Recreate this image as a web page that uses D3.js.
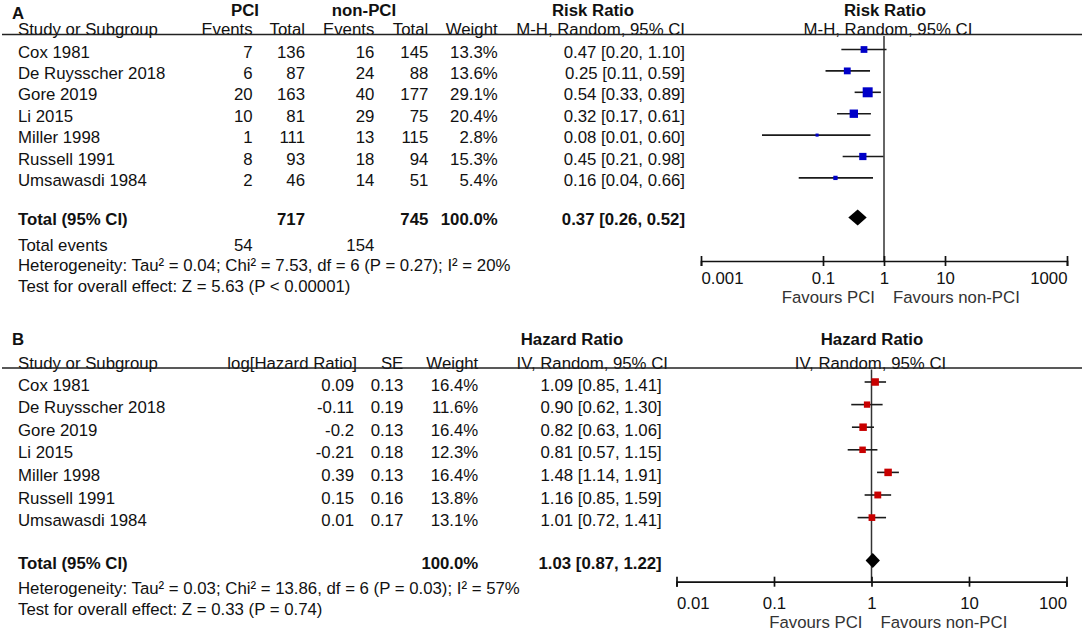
<!DOCTYPE html>
<meta charset="utf-8">
<style>
body { margin: 0; background: #fff; }
svg text {
  font-family: "Liberation Sans", Arial, sans-serif;
  font-size: 16.8px;
  fill: #111;
}
.bold { font-weight: bold; }
.axis line,
.axis path {
  fill: none;
  stroke: #111;
  stroke-width: 1.7px;
}
.ci { stroke: #1a1a1a; stroke-width: 1.6px; }
.zero { stroke: #333; stroke-width: 1.5px; }
.rule { stroke: #222; stroke-width: 1.6px; }
text.favours { fill: #333; }
</style>
<body>
<div id="forest"></div>

<script src="https://cdn.jsdelivr.net/npm/d3@7/dist/d3.min.js"></script>

<script>
// ---- shared study names
var studies = ["Cox 1981", "De Ruysscher 2018", "Gore 2019", "Li 2015", "Miller 1998", "Russell 1991", "Umsawasdi 1984"];

// ---- panel A : risk ratio (PCI vs non-PCI)
var pciEvents = [7, 6, 20, 10, 1, 8, 2];
var pciTotal = [136, 87, 163, 81, 111, 93, 46];
var nonEvents = [16, 24, 40, 29, 13, 18, 14];
var nonTotal = [145, 88, 177, 75, 115, 94, 51];
var rrWeight = [13.3, 13.6, 29.1, 20.4, 2.8, 15.3, 5.4];
var rrEst = [0.47, 0.25, 0.54, 0.32, 0.08, 0.45, 0.16];
var rrLow = [0.20, 0.11, 0.33, 0.17, 0.01, 0.21, 0.04];
var rrHigh = [1.10, 0.59, 0.89, 0.61, 0.60, 0.98, 0.66];
var rrPooled = [0.37, 0.26, 0.52];
var rrTicks = [0.001, 0.1, 1, 10, 1000];

// ---- panel B : hazard ratio
var logHR = [0.09, -0.11, -0.2, -0.21, 0.39, 0.15, 0.01];
var hrSE = [0.13, 0.19, 0.13, 0.18, 0.13, 0.16, 0.17];
var hrWeight = [16.4, 11.6, 16.4, 12.3, 16.4, 13.8, 13.1];
var hrEst = [1.09, 0.90, 0.82, 0.81, 1.48, 1.16, 1.01];
var hrLow = [0.85, 0.62, 0.63, 0.57, 1.14, 0.85, 0.72];
var hrHigh = [1.41, 1.30, 1.06, 1.15, 1.91, 1.59, 1.41];
var hrPooled = [1.03, 0.87, 1.22];
var hrTicks = [0.01, 0.1, 1, 10, 100];

var W = 1084, H = 630;
var svg = d3.select("#forest").append("svg")
  .attr("width", W)
  .attr("height", H);

function pct(v) { return v.toFixed(1) + "%"; }
function ratio(e, l, h) { return e.toFixed(2) + " [" + l.toFixed(2) + ", " + h.toFixed(2) + "]"; }

function put(g, x, y, txt, anchor, cls) {
  return g.append("text")
    .attr("x", x).attr("y", y)
    .attr("text-anchor", anchor || "start")
    .attr("class", cls || null)
    .text(txt);
}

function drawPanel(cfg) {
  var g = svg.append("g");
  var rowY = d3.scaleLinear().domain([0, 1]).range([cfg.firstRow, cfg.firstRow + cfg.step]);
  var x = d3.scaleLog().domain(cfg.domain).range(cfg.range);
  var side = d3.scaleSqrt().domain([0, 100]).range([0, 18.5]);

  // header, line 1
  put(g, 12, cfg.letterY, cfg.letter, "start", "bold");
  cfg.groups.forEach(function(gr) { put(g, gr.x, cfg.head1, gr.text, "middle", "bold"); });
  put(g, (x(1) + cfg.plotHeadDx), cfg.head1, cfg.plotHead1, "middle", "bold");

  // header, line 2
  put(g, 18, cfg.head2, "Study or Subgroup");
  cfg.cols.forEach(function(c) { put(g, c.hx || c.x, cfg.head2, c.head, "end"); });
  put(g, (x(1) + cfg.plotHeadDx2), cfg.head2, cfg.plotHead2, "middle");
  g.append("line").attr("class", "rule")
    .attr("x1", 2).attr("x2", W - 2)
    .attr("y1", cfg.head2 - 0.5).attr("y2", cfg.head2 - 0.5);

  // study rows
  studies.forEach(function(s, i) {
    var y = rowY(i) + 6;
    put(g, 18, y, s);
    cfg.cols.forEach(function(c) { put(g, c.x, y, c.fmt(i), "end"); });
  });

  // total row
  var ty = rowY(cfg.totalRow) + 6;
  put(g, 18, ty, "Total (95% CI)", "start", "bold");
  cfg.cols.forEach(function(c) {
    if (c.total != null) put(g, c.x, ty, c.total, "end", "bold");
  });

  // footnotes
  cfg.notes.forEach(function(n) {
    put(g, 18, n.y, n.text);
    (n.cells || []).forEach(function(c) { put(g, c.x, n.y, c.v, "end"); });
  });

  // null line
  g.append("line").attr("class", "zero")
    .attr("x1", x(1)).attr("x2", x(1))
    .attr("y1", cfg.head2 + 1).attr("y2", cfg.axisY);

  // whiskers + squares
  var marks = g.selectAll(".study").data(studies).enter().append("g").attr("class", "study");
  marks.append("line").attr("class", "ci")
    .attr("x1", function(d, i) { return x(cfg.low[i]); })
    .attr("x2", function(d, i) { return x(cfg.high[i]); })
    .attr("y1", function(d, i) { return rowY(i) + cfg.markDy; })
    .attr("y2", function(d, i) { return rowY(i) + cfg.markDy; });
  marks.append("rect")
    .attr("fill", cfg.color)
    .attr("x", function(d, i) { return x(cfg.est[i]) - side(cfg.weight[i]) / 2; })
    .attr("y", function(d, i) { return rowY(i) + cfg.markDy - side(cfg.weight[i]) / 2; })
    .attr("width", function(d, i) { return side(cfg.weight[i]); })
    .attr("height", function(d, i) { return side(cfg.weight[i]); });

  // pooled diamond
  var dy = rowY(cfg.totalRow) + cfg.markDy, p = cfg.pooled;
  g.append("path")
    .attr("fill", "#000")
    .attr("d", "M" + x(p[1]) + "," + dy + "L" + x(p[0]) + "," + (dy - cfg.diamondH) +
      "L" + x(p[2]) + "," + dy + "L" + x(p[0]) + "," + (dy + cfg.diamondH) + "Z");

  // log axis
  var axis = g.append("g").attr("class", "axis")
    .attr("transform", "translate(0," + cfg.axisY + ")")
    .call(d3.axisBottom(x).tickValues(cfg.ticks).tickSizeOuter(0).tickSize(5)
      .tickFormat(function(d) { return String(d); }));
  axis.selectAll(".tick line").attr("y1", -5).attr("y2", 5);
  axis.selectAll(".tick text")
    .attr("y", null).attr("dy", null)
    .attr("transform", "translate(0," + cfg.tickLabelDy + ")")
    .attr("fill", null)
    .attr("text-anchor", function(d, i) { return i == 0 ? "start" : (i == cfg.ticks.length - 1 ? "end" : "middle"); });
  axis.attr("font-size", null).attr("font-family", null);

  put(g, x(1) - 9, cfg.favY, "Favours PCI", "end", "favours");
  put(g, x(1) + 9, cfg.favY, "Favours non-PCI", "start", "favours");
}

drawPanel({
  letter: "A", letterY: 18.5,
  head1: 15.5, head2: 35,
  groups: [{ text: "PCI", x: 245 }, { text: "non-PCI", x: 364 }, { text: "Risk Ratio", x: 593 }],
  plotHead1: "Risk Ratio", plotHead2: "M-H, Random, 95% CI", plotHeadDx: 1, plotHeadDx2: 4,
  cols: [
    { head: "Events", x: 252.7, fmt: function(i) { return pciEvents[i]; } },
    { head: "Total", x: 305, fmt: function(i) { return pciTotal[i]; }, total: d3.sum(pciTotal) },
    { head: "Events", x: 374.3, fmt: function(i) { return nonEvents[i]; } },
    { head: "Total", x: 428.3, fmt: function(i) { return nonTotal[i]; }, total: d3.sum(nonTotal) },
    { head: "Weight", x: 497.7, fmt: function(i) { return pct(rrWeight[i]); }, total: "100.0%" },
    { head: "M-H, Random, 95% CI", x: 685, fmt: function(i) { return ratio(rrEst[i], rrLow[i], rrHigh[i]); },
      total: ratio(rrPooled[0], rrPooled[1], rrPooled[2]) }
  ],
  firstRow: 51.5, step: 21.4, totalRow: 7.85, markDy: -2,
  notes: [
    { text: "Total events", y: 250.5, cells: [{ x: 252.7, v: d3.sum(pciEvents) }, { x: 374.3, v: d3.sum(nonEvents) }] },
    { text: "Heterogeneity: Tau\u00b2 = 0.04; Chi\u00b2 = 7.53, df = 6 (P = 0.27); I\u00b2 = 20%", y: 271 },
    { text: "Test for overall effect: Z = 5.63 (P < 0.00001)", y: 292 }
  ],
  domain: [0.001, 1000], range: [701, 1067], ticks: rrTicks,
  est: rrEst, low: rrLow, high: rrHigh, weight: rrWeight, pooled: rrPooled,
  color: "#0000c8", diamondH: 8,
  axisY: 261, tickLabelDy: 22.5, favY: 303
});

drawPanel({
  letter: "B", letterY: 345,
  head1: 345, head2: 368.5,
  groups: [{ text: "Hazard Ratio", x: 572 }],
  plotHead1: "Hazard Ratio", plotHead2: "IV, Random, 95% CI", plotHeadDx: 0.5, plotHeadDx2: -1,
  cols: [
    { head: "log[Hazard Ratio]", x: 354, hx: 357, fmt: function(i) { return String(logHR[i]); } },
    { head: "SE", x: 403.3, fmt: function(i) { return hrSE[i].toFixed(2); } },
    { head: "Weight", x: 478.3, fmt: function(i) { return pct(hrWeight[i]); }, total: "100.0%" },
    { head: "IV, Random, 95% CI", x: 661.7, hx: 668, fmt: function(i) { return ratio(hrEst[i], hrLow[i], hrHigh[i]); },
      total: ratio(hrPooled[0], hrPooled[1], hrPooled[2]) }
  ],
  firstRow: 384.5, step: 22.6, totalRow: 7.9, markDy: -2.5,
  notes: [
    { text: "Heterogeneity: Tau\u00b2 = 0.03; Chi\u00b2 = 13.86, df = 6 (P = 0.03); I\u00b2 = 57%", y: 594 },
    { text: "Test for overall effect: Z = 0.33 (P = 0.74)", y: 615 }
  ],
  domain: [0.01, 100], range: [676.5, 1066.5], ticks: hrTicks,
  est: hrEst, low: hrLow, high: hrHigh, weight: hrWeight, pooled: hrPooled,
  color: "#c80000", diamondH: 7.5,
  axisY: 581.7, tickLabelDy: 27, favY: 627.5
});
</script>
